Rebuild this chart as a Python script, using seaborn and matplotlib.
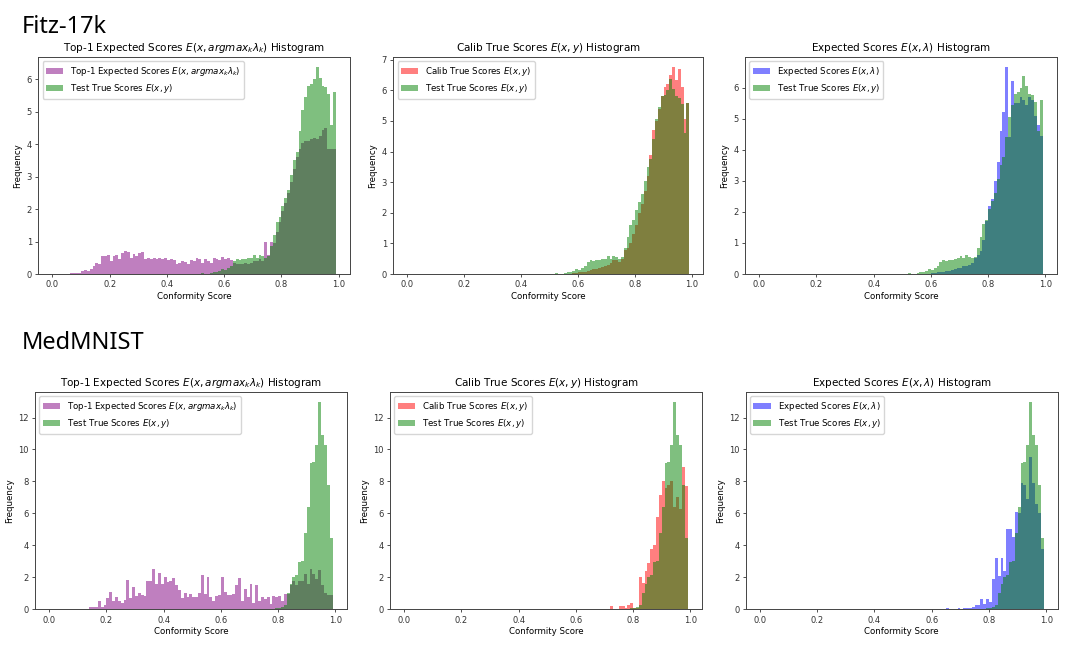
import numpy as np
import pandas as pd
import matplotlib
matplotlib.use("Agg")
import matplotlib.pyplot as plt
import seaborn as sns

# ---------------- data (density per 0.01-wide bin, bins from 0.00 to 0.99) ----------------
BIN_WIDTH = 0.01
N_BINS = 99

# Fitz-17k
fitz_top1_start = 0.06
fitz_top1 = [0.02, 0.03, 0.02, 0.03,
             0.1, 0.12, 0.1, 0.15, 0.25, 0.35, 0.3, 0.55, 0.57, 0.58,
             0.4, 0.55, 0.6, 0.45, 0.65, 0.7, 0.68, 0.5, 0.62, 0.55,
             0.65, 0.68, 0.45, 0.5, 0.45, 0.5, 0.45, 0.5, 0.45, 0.48,
             0.42, 0.45, 0.42, 0.3, 0.35, 0.4, 0.38, 0.32, 0.42, 0.4,
             0.5, 0.45, 0.35, 0.45, 0.4, 0.35, 0.48, 0.45, 0.42, 0.52,
             0.45, 0.5, 0.42,
             0.35, 0.3, 0.32, 0.3, 0.35, 0.3, 0.35, 0.4, 0.4, 0.45, 0.4,
             1.0, 0.6, 1.0,
             0.95, 1.3, 1.6, 1.95, 2.2, 2.5, 2.85, 3.25, 3.6, 3.85, 4.05,
             4.1, 4.1, 4.15, 4.2, 4.15, 4.25, 4.45, 4.5, 3.85, 3.85, 3.85]

fitz_test_start = 0.52
fitz_test = [0.02, 0.0, 0.0, 0.03, 0.05, 0.05, 0.1, 0.15, 0.12, 0.2, 0.25,
             0.4, 0.45, 0.42, 0.45, 0.45, 0.48, 0.5, 0.58, 0.5, 0.6, 0.55,
             0.5, 0.55,
             0.85, 1.2, 1.6, 1.75, 2.1, 2.35, 2.6, 3.05, 3.5, 3.75, 4.4,
             5.05, 5.45, 5.8, 5.85, 6.0, 6.37, 6.05, 5.8, 5.75, 5.55, 4.6, 5.6]

fitz_calib_start = 0.58
fitz_calib = [0.02, 0.03, 0.05, 0.06, 0.08,
              0.1, 0.12, 0.15, 0.15, 0.2, 0.22, 0.25, 0.3, 0.35, 0.45,
              0.45, 0.4, 0.5,
              0.8, 0.85, 1.0, 1.3, 1.6, 2.0, 2.3, 2.7, 3.2, 3.9,
              4.7, 5.0, 5.4, 5.8, 6.1, 6.2, 6.5, 6.75, 6.35, 6.7, 6.1, 5.05, 5.6]

fitz_expected_start = 0.60
fitz_expected = [0.02, 0.03, 0.05, 0.05, 0.08, 0.1, 0.1, 0.12, 0.15, 0.2,
                 0.2, 0.25, 0.25, 0.3, 0.35, 0.5, 0.6, 0.75, 1.1, 1.7,
                 2.2, 2.4, 3.0, 3.6, 4.6, 5.2, 6.65, 4.4, 6.2, 5.5,
                 5.5, 5.7, 5.6, 5.45, 5.7, 5.6, 5.1, 4.8, 4.45]

# MedMNIST
med_top1_start = 0.14
med_top1 = [0.15, 0.15, 0.15, 0.5, 0.15, 0.3, 0.7, 1.1, 0.55, 0.75,
            0.55, 0.4, 0.6, 1.85, 0.7, 1.4, 0.85, 1.0, 0.9, 0.85,
            1.75, 1.75, 2.5, 1.6, 2.3, 1.6, 2.0, 1.7, 1.8, 1.95,
            1.5, 1.2, 0.7, 1.05, 0.8, 0.95, 0.75, 0.75, 1.0, 2.15,
            0.95, 2.05, 0.8, 0.55, 0.85, 0.9, 2.0, 1.1, 0.9, 0.9,
            0.95, 1.55, 1.95, 0.55, 1.25, 0.8, 1.6, 0.4, 1.55, 0.55,
            0.75, 0.65, 0.75, 0.35, 0.85, 0.75, 0.85, 0.5, 0.95,
            0.95, 1.5, 1.75, 1.55, 1.8, 1.75, 2.2, 1.6, 2.5, 2.2,
            1.9, 2.45, 1.5, 1.0, 0.9, 0.9]

med_test_start = 0.78
med_test = [0.05, 0.1, 0.1, 0.15, 0.3, 1.0, 1.6, 2.05, 2.15, 2.95, 3.05,
            4.8, 6.4, 9.15, 9.2, 10.3, 12.95, 10.9, 10.3, 7.8, 4.45]

med_calib_start = 0.72
med_calib = [0.2, 0.0, 0.0, 0.2, 0.2, 0.1, 0.3, 0.4, 0.1, 0.1,
             2.0, 1.65, 2.4, 2.9, 3.8, 4.0, 5.75, 7.15, 8.05, 7.6,
             7.8, 8.0, 6.4, 7.0, 6.3, 8.9, 7.7]

med_expected_start = 0.65
med_expected = [0.1, 0.05, 0.0, 0.05, 0.1, 0.0, 0.1, 0.1, 0.1, 0.15,
                0.3, 0.3, 0.65, 0.35, 0.65, 0.45, 1.9, 3.2, 2.1, 3.2,
                2.4, 5.0, 5.0, 4.5, 6.1, 6.0, 7.9, 7.8, 6.9, 9.5,
                7.9, 6.6, 6.0, 3.75]

row_labels = ["Fitz-17k", "MedMNIST"]
titles = [r"Top-1 Expected Scores $E(x, argmax_k\lambda_k)$ Histogram",
          r"Calib True Scores $E(x, y)$ Histogram",
          r"Expected Scores $E(x, \lambda)$ Histogram"]
lbl_top1 = r"Top-1 Expected Scores $E(x, argmax_k\lambda_k)$"
lbl_test = r"Test True Scores $E(x, y)$"
lbl_calib = r"Calib True Scores $E(x, y)$"
lbl_expected = r"Expected Scores $E(x, \lambda)$"
xlabel = "Conformity Score"
ylabel = "Frequency"

# ---------------- helpers ----------------
edges = [round(i * BIN_WIDTH, 2) for i in range(N_BINS + 1)]
centers = [(edges[i] + edges[i + 1]) / 2 for i in range(N_BINS)]


def full(start, vals):
    arr = np.zeros(N_BINS)
    i = int(round(start / BIN_WIDTH))
    arr[i:i + len(vals)] = vals
    return pd.DataFrame({"score": centers, "density": arr})


plt.rcParams["font.family"] = ["DejaVu Sans"]
plt.rcParams["axes.linewidth"] = 0.7
plt.rcParams["axes.edgecolor"] = "#444444"

fig = plt.figure(figsize=(10.76, 6.56), dpi=100)
W, H = 1076.0, 656.0

# axes boxes in pixels: (left, top, right, bottom)
boxes = [
    [(38.3, 57, 350, 274), (393.3, 57, 703.3, 274), (745, 57, 1056.7, 274)],
    [(35, 392, 346.7, 609.3), (390, 392, 701.7, 609.3), (745.7, 392, 1057.7, 609.3)],
]

rows = [
    [(fitz_top1_start, fitz_top1, "purple", lbl_top1),
     (fitz_calib_start, fitz_calib, "red", lbl_calib),
     (fitz_expected_start, fitz_expected, "blue", lbl_expected)],
    [(med_top1_start, med_top1, "purple", lbl_top1),
     (med_calib_start, med_calib, "red", lbl_calib),
     (med_expected_start, med_expected, "blue", lbl_expected)],
]
tests = [(fitz_test_start, fitz_test), (med_test_start, med_test)]

for r in range(2):
    for c in range(3):
        l, t, rr, b = boxes[r][c]
        ax = fig.add_axes([l / W, 1 - b / H, (rr - l) / W, (b - t) / H])
        start, vals, color, lbl = rows[r][c]
        sns.histplot(data=full(start, vals), x="score", weights="density", bins=edges,
                     stat="count", color=color, alpha=0.5, linewidth=0, edgecolor="none",
                     label=lbl, ax=ax)
        ts, tv = tests[r]
        sns.histplot(data=full(ts, tv), x="score", weights="density", bins=edges,
                     stat="count", color="green", alpha=0.5, linewidth=0, edgecolor="none",
                     label=lbl_test, ax=ax)
        ax.set_title(titles[c], fontsize=7.5, pad=4)
        ax.set_xlabel(xlabel, fontsize=6.2, labelpad=2)
        ax.set_ylabel(ylabel, fontsize=6.2, labelpad=3)
        ax.tick_params(labelsize=6, length=2.5, width=0.6, pad=2, colors="#333333")
        ax.set_xticks([0.0, 0.2, 0.4, 0.6, 0.8, 1.0])
        ax.legend(loc="upper left", fontsize=6.2, frameon=True, borderaxespad=0.5,
                  handlelength=2.0)

fig.text(22 / W, 1 - 33 / H, row_labels[0], fontsize=17, family=["Noto Sans", "DejaVu Sans"],
         va="baseline", ha="left")
fig.text(22 / W, 1 - 349 / H, row_labels[1], fontsize=17, family=["Noto Sans", "DejaVu Sans"],
         va="baseline", ha="left")

fig.savefig("out.png", dpi=100)
